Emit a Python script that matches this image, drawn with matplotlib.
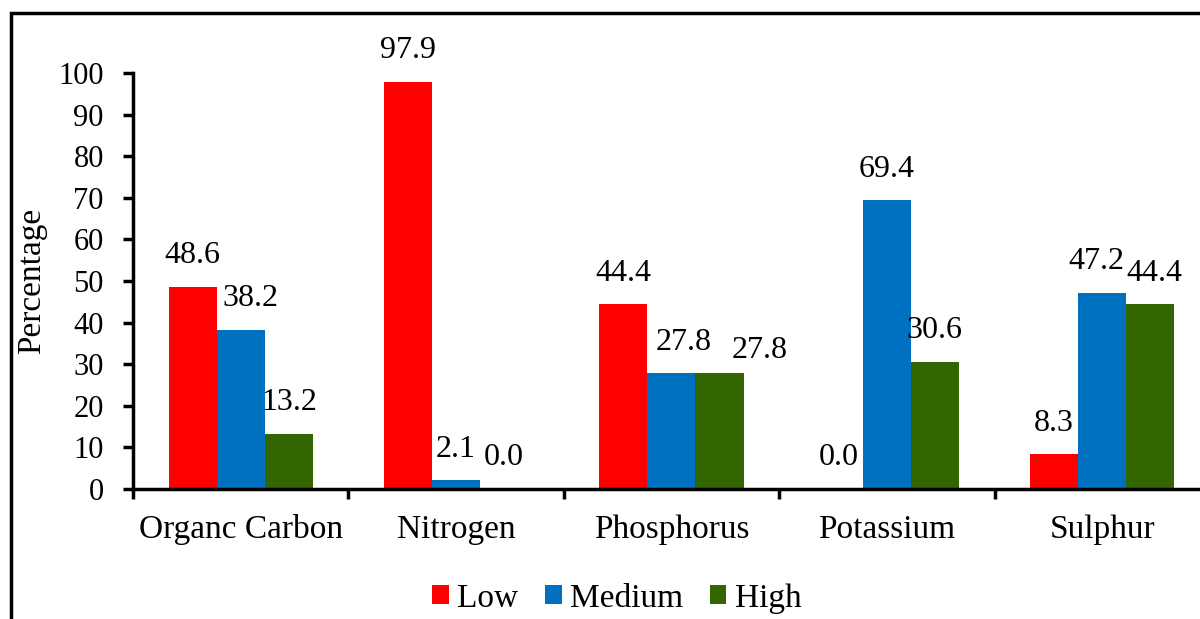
import matplotlib.pyplot as plt
import numpy as np
from matplotlib.patches import Rectangle

# Soil nutrient status (% of samples)
nutrients = ['Organc Carbon', 'Nitrogen', 'Phosphorus', 'Potassium', 'Sulphur']
low = [48.6, 97.9, 44.4, 0.0, 8.3]
medium = [38.2, 2.1, 27.8, 69.4, 47.2]
high = [13.2, 0.0, 27.8, 30.6, 44.4]
series_names = ['Low', 'Medium', 'High']
series_colors = ['#FF0000', '#0070C0', '#336600']

# hand-placed label nudges (points), keyed by (series, category)
label_nudge = {(1, 0): (7, 0), (1, 2): (9, 0), (2, 2): (29, -6),
               (1, 4): (-4, 0), (2, 4): (3, 0)}

plt.rcParams['font.family'] = 'Liberation Serif'
plt.rcParams['font.size'] = 24

fig = plt.figure(figsize=(12, 6.19), dpi=100)
ax = fig.add_axes([0.1108, 0.21, 0.8975, 0.672])

x = np.arange(len(nutrients))
w = 0.223
for k, (vals, name, col) in enumerate(zip([low, medium, high], series_names, series_colors)):
    bars = ax.bar(x + (k - 1) * w, vals, width=w, color=col, label=name)
    for i, (b, v) in enumerate(zip(bars, vals)):
        dx, dy = label_nudge.get((k, i), (0, 0))
        ax.annotate(f'{v:.1f}', (b.get_x() + b.get_width() / 2, v),
                    xytext=(dx, 22.5 + dy), textcoords='offset points',
                    ha='center', va='center', fontsize=23)

ax.set_xlim(-0.5, len(nutrients) - 0.5)
ax.set_ylim(0, 100)
ax.set_yticks(np.arange(0, 101, 10))

# ticks at category boundaries, labels at centres
ax.set_xticks(np.arange(-0.5, len(nutrients), 1.0))
ax.set_xticklabels([])
ax.set_xticks(x, minor=True)
ax.set_xticklabels(nutrients, minor=True, fontsize=24)
ax.tick_params(axis='x', which='minor', length=0, pad=18)
ax.tick_params(axis='x', which='major', length=7, width=2.5)
ax.tick_params(axis='y', length=7, width=2.5, pad=14, labelsize=22)

for s in ['top', 'right']:
    ax.spines[s].set_visible(False)
for s in ['left', 'bottom']:
    ax.spines[s].set_linewidth(2.5)

ax.set_ylabel('Percentage', fontsize=24, labelpad=8)

fig.legend(loc='center', bbox_to_anchor=(0.514, 0.033), ncol=3, frameon=False,
           handlelength=0.5, handleheight=0.5, handletextpad=0.25, columnspacing=0.8,
           fontsize=24)

# outer frame of the cropped figure
fig.patches.append(Rectangle((0.0095, -0.2), 1.2, 0.2 + 0.979, transform=fig.transFigure,
                             fill=False, edgecolor='black', linewidth=2.5))

fig.savefig('out.png', dpi=100)
